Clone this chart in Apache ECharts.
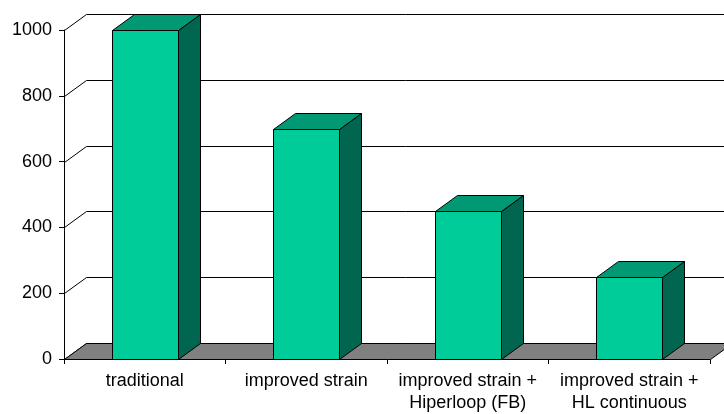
<!DOCTYPE html>
<html>
<head>
<meta charset="utf-8">
<script src="https://cdn.jsdelivr.net/npm/echarts@6/dist/echarts.min.js"></script>
<style>
  html, body { margin: 0; padding: 0; background: #ffffff; }
  #chart { width: 724px; height: 414px; }
</style>
</head>
<body>
<div id="chart"></div>
<script>
// Chart data
const categories = [
  'traditional',
  'improved strain',
  'improved strain +\nHiperloop (FB)',
  'improved strain +\nHL continuous'
];
const values = [1000, 698, 451, 249];
const yTicks = [0, 200, 400, 600, 800, 1000];

// Pseudo-3D depth offset (pixels) for walls, floor and bar boxes
const DEPTH_X = 22;
const DEPTH_Y = -16;
const FONT = '"Liberation Sans", Arial, sans-serif';

const chart = echarts.init(document.getElementById('chart'), null, { renderer: 'canvas' });

// Back-wall gridlines plus the diagonal side-wall segments
function renderGrid(params, api) {
  const cs = params.coordSys;
  const v = api.value(1);
  const y = Math.round(api.coord([0, v])[1]) + 0.5;
  const x0 = cs.x + 0.5;
  const x1 = cs.x + cs.width + DEPTH_X;
  return {
    type: 'polyline',
    shape: { points: [[x0, y], [x0 + DEPTH_X, y + DEPTH_Y], [x1 + 0.5, y + DEPTH_Y]] },
    style: { stroke: '#000000', lineWidth: 1, fill: null }
  };
}

// Gray floor under the bars
function renderFloor(params, api) {
  const cs = params.coordSys;
  const y = Math.round(api.coord([0, 0])[1]) + 0.5;
  const xl = cs.x + 0.5;
  const xr = cs.x + cs.width + 0.5;
  return {
    type: 'polygon',
    shape: { points: [[xl, y], [xr, y], [xr + DEPTH_X, y + DEPTH_Y], [xl + DEPTH_X, y + DEPTH_Y]] },
    style: { fill: '#808080', stroke: '#000000', lineWidth: 1 }
  };
}

// Box-shaped bar: front face, top face and right side face
function renderBar(params, api) {
  const idx = api.value(0);
  const top = api.coord([idx, api.value(1)]);
  const base = api.coord([idx, 0]);
  const bw = api.size([1, 0])[0] * 0.41;
  const xl = Math.round(top[0] - bw / 2) + 0.5;
  const xr = Math.round(top[0] + bw / 2) + 0.5;
  const yt = Math.round(top[1]) + 0.5;
  const yb = Math.round(base[1]) + 0.5;
  const line = { stroke: '#000000', lineWidth: 1, lineJoin: 'round' };
  return {
    type: 'group',
    children: [
      {
        type: 'polygon',
        shape: { points: [[xr, yt], [xr + DEPTH_X, yt + DEPTH_Y], [xr + DEPTH_X, yb + DEPTH_Y], [xr, yb]] },
        style: Object.assign({ fill: '#006650' }, line)
      },
      {
        type: 'polygon',
        shape: { points: [[xl, yt], [xr, yt], [xr + DEPTH_X, yt + DEPTH_Y], [xl + DEPTH_X, yt + DEPTH_Y]] },
        style: Object.assign({ fill: '#009973' }, line)
      },
      {
        type: 'rect',
        shape: { x: xl, y: yt, width: xr - xl, height: yb - yt },
        style: Object.assign({ fill: '#00CC99' }, line)
      }
    ]
  };
}

chart.setOption({
  animation: false,
  backgroundColor: '#ffffff',
  grid: { left: 64, right: 14, top: 30, bottom: 55 },
  xAxis: {
    type: 'category',
    data: categories,
    boundaryGap: true,
    axisLine: { show: true, lineStyle: { color: '#000000', width: 1 } },
    axisTick: { show: true, length: 5, alignWithLabel: false, lineStyle: { color: '#000000' } },
    axisLabel: {
      interval: 0,
      margin: 11,
      color: '#000000',
      fontFamily: FONT,
      fontSize: 18,
      lineHeight: 22,
      align: 'center'
    },
    splitLine: { show: false }
  },
  yAxis: {
    type: 'value',
    min: 0,
    max: 1000,
    interval: 200,
    axisLine: { show: true, lineStyle: { color: '#000000', width: 1 } },
    axisTick: { show: true, length: 5, lineStyle: { color: '#000000' } },
    axisLabel: {
      margin: 12,
      color: '#000000',
      fontFamily: FONT,
      fontSize: 18,
      formatter: v => String(v)
    },
    splitLine: { show: false }
  },
  series: [
    {
      type: 'custom',
      z: 1,
      renderItem: renderGrid,
      data: yTicks.map(v => [0, v]),
      silent: true
    },
    {
      type: 'custom',
      z: 2,
      renderItem: renderFloor,
      data: [[0, 0]],
      silent: true
    },
    {
      type: 'custom',
      z: 3,
      renderItem: renderBar,
      data: values.map((v, i) => [i, v])
    }
  ]
});
</script>
</body>
</html>
